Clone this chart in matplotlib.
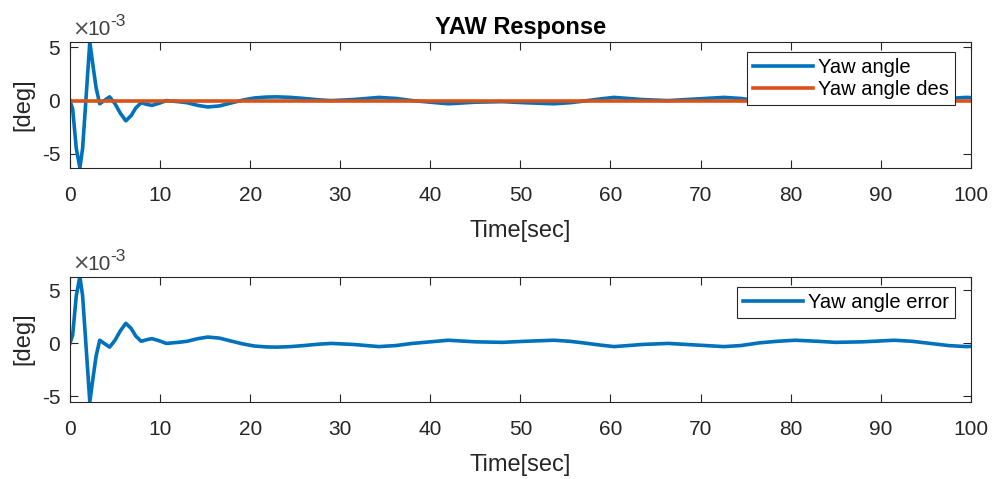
import matplotlib.pyplot as plt
import matplotlib

matplotlib.rcParams['font.family'] = ['Liberation Sans', 'DejaVu Sans']
matplotlib.rcParams['axes.unicode_minus'] = False

# 时间点 (sec)，数值单位 1e-3 deg
t = [0, 0.3, 0.7, 1.1, 1.4, 1.7, 2.2, 2.6, 2.9, 3.3, 3.8, 4.4, 5.0, 5.6,
     6.2, 6.8, 7.3, 7.9, 8.5, 9.1, 9.9, 10.7, 12.0, 13.0, 14.2, 15.3, 16.6,
     18.0, 19.2, 20.5, 21.8, 23.0, 24.5, 26.0, 27.5, 29.0, 31.5, 34.3, 36.2,
     38.0, 40.0, 42.0, 45.0, 48.0, 50.5, 53.7, 55.5, 57.0, 58.8, 60.4, 62.0,
     63.5, 66.4, 69.5, 72.6, 74.5, 76.5, 78.5, 80.5, 83.0, 85.0, 88.0, 91.5,
     93.5, 95.5, 97.5, 99.5, 100]
yaw = [0, -0.8, -4.5, -6.3, -4.5, -0.8, 5.5, 3.0, 1.2, -0.3, 0.0, 0.35, -0.3, -1.2,
       -1.9, -1.4, -0.7, -0.2, -0.35, -0.45, -0.25, 0.0, -0.1, -0.2, -0.45, -0.6, -0.5,
       -0.2, 0.05, 0.25, 0.33, 0.35, 0.3, 0.2, 0.08, 0.0, 0.1, 0.3, 0.2,
       0.0, -0.15, -0.3, -0.15, -0.1, -0.2, -0.3, -0.2, -0.05, 0.15, 0.3, 0.2,
       0.1, 0.0, 0.15, 0.3, 0.2, -0.05, -0.2, -0.3, -0.2, -0.1, -0.15, -0.3,
       -0.2, 0.0, 0.2, 0.3, 0.28]
yaw_des = [0.0] * len(t)
yaw_err = [0, 0.8, 4.5, 6.3, 4.5, 0.8, -5.5, -3.0, -1.2, 0.3, 0.0, -0.35, 0.3, 1.2,
           1.9, 1.4, 0.7, 0.2, 0.35, 0.45, 0.25, 0.0, 0.1, 0.2, 0.45, 0.6, 0.5,
           0.2, -0.05, -0.25, -0.33, -0.35, -0.3, -0.2, -0.08, 0.0, -0.1, -0.3, -0.2,
           0.0, 0.15, 0.3, 0.15, 0.1, 0.2, 0.3, 0.2, 0.05, -0.15, -0.3, -0.2,
           -0.1, 0.0, -0.15, -0.3, -0.2, 0.05, 0.2, 0.3, 0.2, 0.1, 0.15, 0.3,
           0.2, 0.0, -0.2, -0.3, -0.28]

xticks = list(range(0, 101, 10))
yticks = [-5, 0, 5]

blue = '#0072BD'
orange = '#D95319'
dark = '#262626'


def style_axes(ax):
    ax.set_xlim(0, 100)
    ax.set_xticks(xticks)
    ax.set_yticks(yticks)
    ax.set_yticklabels(['-5', '0', '5'])
    ax.tick_params(direction='in', top=True, right=True, length=6, width=0.8,
                   colors=dark, labelsize=15)
    ax.tick_params(axis='x', pad=13)
    ax.tick_params(axis='y', pad=7)
    for sp in ax.spines.values():
        sp.set_color(dark)
        sp.set_linewidth(0.8)
    ax.set_xlabel('Time[sec]', fontsize=17, color=dark, labelpad=11)
    ax.set_ylabel('[deg]', fontsize=17, color=dark, labelpad=5)
    # 指数标注 ×10^-3
    ax.annotate('×', xy=(0, 1), xycoords='axes fraction', xytext=(1.2, 4.8),
                textcoords='offset points', fontsize=15, color='#505050',
                ha='left', va='baseline', family='DejaVu Sans')
    ax.annotate('10', xy=(0, 1), xycoords='axes fraction', xytext=(12.5, 4.8),
                textcoords='offset points', fontsize=15, color='#404040',
                ha='left', va='baseline')
    ax.annotate('-3', xy=(0, 1), xycoords='axes fraction', xytext=(29, 11.3),
                textcoords='offset points', fontsize=12.5, color='#404040',
                ha='left', va='baseline')


fig = plt.figure(figsize=(9.94, 4.79), dpi=100)

ax1 = fig.add_axes([0.0704, 0.6499, 0.9062, 0.2624])
ax1.plot(t, yaw, color=blue, lw=2.6, label='Yaw angle')
ax1.plot(t, yaw_des, color=orange, lw=2.6, label='Yaw angle des')
ax1.set_ylim(min(yaw), max(yaw))
style_axes(ax1)
ax1.set_title('YAW Response', fontsize=17, fontweight='bold', color='black', pad=6)
leg = ax1.legend(loc='upper right', bbox_to_anchor=(0.9826, 0.920), borderaxespad=0,
                 fontsize=14.5, handlelength=3.0, handletextpad=0.25, labelspacing=0.15,
                 borderpad=0.3, fancybox=False, framealpha=1, edgecolor=dark)
leg.get_frame().set_linewidth(0.8)

ax2 = fig.add_axes([0.0704, 0.1614, 0.9062, 0.2610])
ax2.plot(t, yaw_err, color=blue, lw=2.6, label='Yaw angle error')
ax2.set_ylim(min(yaw_err), max(yaw_err))
style_axes(ax2)
leg = ax2.legend(loc='upper right', bbox_to_anchor=(0.9826, 0.918), borderaxespad=0,
                 fontsize=14.5, handlelength=3.0, handletextpad=0.25,
                 borderpad=0.3, fancybox=False, framealpha=1, edgecolor=dark)
leg.get_frame().set_linewidth(0.8)

fig.savefig('out.png', dpi=100)
